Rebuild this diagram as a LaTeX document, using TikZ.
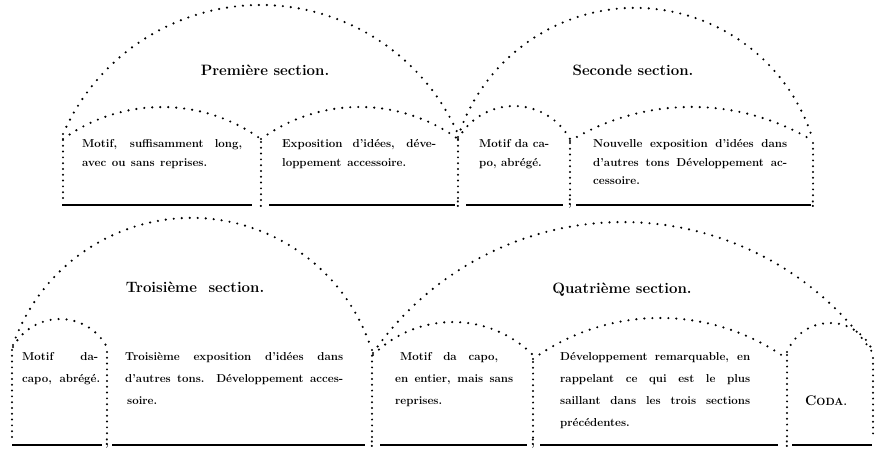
\documentclass[tikz,border=0pt]{standalone}
\usepackage{fontspec}
\newcommand\justline[2]{\makebox[#1][s]{#2}}
\begin{document}
\begin{tikzpicture}[x=1pt,y=1pt]
\tikzset{
  dotarc/.style={line width=2.4pt, line cap=round, dash pattern=on 0pt off 8pt},
  dotwall/.style={line width=2.2pt, line cap=round, dash pattern=on 0pt off 5.8pt},
  baserule/.style={line width=1.9pt},
  heading/.style={inner sep=0pt, anchor=base, font=\bfseries\fontsize{15}{18}\selectfont},
  body/.style={inner sep=0pt, anchor=base west, font=\bfseries\fontsize{11.5}{13}\selectfont\addfontfeatures{FakeBold=0.8}},
  punct/.style={inner sep=0pt, anchor=base, font=\bfseries\fontsize{15}{15}\selectfont},
}
\fill[white] (0,0) rectangle (876,452);
\useasboundingbox (0,0) rectangle (876,452);

% ---------- upper row: first and second sections ----------
% large arches
\draw[dotarc] (63,318) arc[start angle=156.3, end angle=23.7, radius=215.7];
\draw[dotarc] (458,315) arc[start angle=162.2, end angle=17.8, radius=185.9];
% small arches
\draw[dotarc] (63,313) arc[start angle=125.8, end angle=54.2, radius=169.1];
\draw[dotarc] (261,313) arc[start angle=126, end angle=54, radius=167.6];
\draw[dotarc] (458,313) arc[start angle=151, end angle=29, radius=64];
\draw[dotarc] (570,311) arc[start angle=121.3, end angle=58.7, radius=234.1];
% walls
\draw[dotwall] (63,312) -- (63,250);
\draw[dotwall] (261,310) -- (261,252);
\draw[dotwall] (458,312) -- (458,254);
\draw[dotwall] (570,309) -- (570,254);
\draw[dotwall] (813,309) -- (813,254);
% base rules
\draw[baserule] (62,247) -- (252,247);
\draw[baserule] (269,247) -- (455,247);
\draw[baserule] (466,247) -- (563,247);
\draw[baserule] (576,247) -- (811,247);
% punctuation on the base line
\node[punct] (m1) at (261,244) {.};
\node[punct] (m2) at (458,244) {:};
\node[punct] (m3) at (570,246) {;};
\node[punct] (m4) at (813,244) {:};
% titles
\node[heading] (h1) at (265,376) {Première section.};
\node[heading] (h2) at (633,376) {Seconde section.};
% texts
\node[body] (p1a) at (82,304) {\justline{160pt}{Motif, suffisamment long,}};
\node[body] (p1b) at (82,285.5) {\justline{125pt}{avec ou sans reprises.}};
\node[body] (p2a) at (282,304) {\justline{154pt}{Exposition d'idées, déve-}};
\node[body] (p2b) at (282,285.5) {\justline{124pt}{loppement accessoire.}};
\node[body] (p3a) at (479,304) {\justline{70pt}{Motif da ca-}};
\node[body] (p3b) at (479,285.5) {po, abrégé.};
\node[body] (p4a) at (593,304) {\justline{194pt}{Nouvelle exposition d'idées dans}};
\node[body] (p4b) at (593,285.5) {\justline{194pt}{d'autres tons Développement ac-}};
\node[body] (p4c) at (593,267) {cessoire.};

% ---------- lower row: third and fourth sections, coda ----------
% large arches
\draw[dotarc] (13,107) arc[start angle=160.9, end angle=19.1, radius=188.9];
\draw[dotarc] (373,99) arc[start angle=145.3, end angle=34.7, radius=304];
% small arches
\draw[dotarc] (13,105) arc[start angle=151.6, end angle=28.4, radius=53.4];
\draw[dotarc] (373,97) arc[start angle=134.8, end angle=45.2, radius=113.5];
\draw[dotarc] (533,93) arc[start angle=125.8, end angle=54.2, radius=217.2];
\draw[dotarc] (787,100) arc[start angle=158, end angle=22, radius=46.4];
% walls
\draw[dotwall] (12,102) -- (12,10);
\draw[dotwall] (107,100) -- (107,14);
\draw[dotwall] (372,102) -- (372,14);
\draw[dotwall] (533,90) -- (533,14);
\draw[dotwall] (787,97) -- (787,14);
\draw[dotwall] (873,94) -- (873,14);
% base rules
\draw[baserule] (12,7) -- (102,7);
\draw[baserule] (112,7) -- (365,7);
\draw[baserule] (380,7) -- (527,7);
\draw[baserule] (540,7) -- (778,7);
\draw[baserule] (792,7) -- (872,7);
% punctuation on the base line
\node[punct] (n1) at (107,6) {;};
\node[punct] (n2) at (372,4) {:};
\node[punct] (n3) at (533,6) {;};
\node[punct] (n4) at (787,4) {:};
% titles
\node[heading] (h3) at (195,159) {Troisième\hspace{6pt} section.};
\node[heading] (h4) at (622,158) {Quatrième section.};
% texts
\node[body] (q1a) at (22,91) {\justline{76pt}{Motif da-}};
\node[body] (q1b) at (22,69) {\justline{78pt}{capo, abrégé.}};
\node[body] (q2a) at (125,91) {\justline{218pt}{Troisième exposition d'idées dans}};
\node[body] (q2b) at (125,69) {\justline{218pt}{d'autres tons. Développement acces-}};
\node[body] (q2c) at (127,47) {soire.};
\node[body] (q3a) at (400,91) {\justline{98pt}{Motif da capo,}};
\node[body] (q3b) at (395,69) {\justline{118pt}{en entier, mais sans}};
\node[body] (q3c) at (395,47) {reprises.};
\node[body] (q4a) at (560,91) {\justline{190pt}{Développement remarquable, en}};
\node[body] (q4b) at (560,69) {\justline{190pt}{rappelant ce qui est le plus}};
\node[body] (q4c) at (560,47) {\justline{190pt}{saillant dans les trois sections}};
\node[body] (q4d) at (560,25) {précédentes.};
\node[inner sep=0pt, anchor=base] (coda) at (826,46) {\bfseries\fontsize{14}{16}\selectfont\addfontfeatures{FakeBold=0.8}C\fontsize{10.5}{12}\selectfont\addfontfeatures{FakeBold=0.8}ODA.};
\end{tikzpicture}
\end{document}
